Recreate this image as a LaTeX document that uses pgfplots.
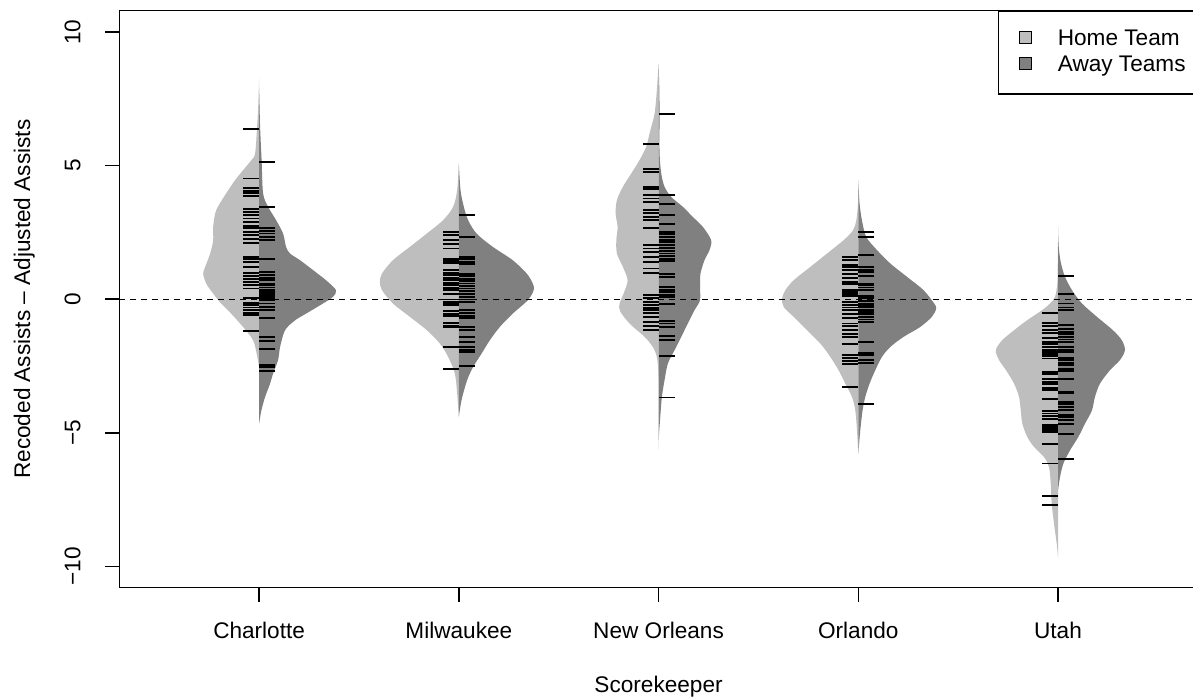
\documentclass[border=0pt]{standalone}
\usepackage{fontspec}
\setmainfont{Liberation Sans}
\usepackage{pgfplots}
\pgfplotsset{compat=1.18}
\definecolor{homegray}{gray}{0.745}
\definecolor{awaygray}{gray}{0.5}
\newcommand{\lblfont}{\fontsize{11.3}{13.5}\selectfont}
\pgfplotsset{
  homebean/.style={forget plot, fill=homegray, draw=none, smooth},
  awaybean/.style={forget plot, fill=awaygray, draw=none, smooth},
  rug/.style={forget plot, only marks, mark=-, mark size=4pt, black, mark options={line width=0.95pt}},
}
\begin{document}
\begin{tikzpicture}
\begin{axis}[name=ax, scale only axis, width=539.25pt, height=288.5pt,
  xmin=0.3, xmax=5.7, ymin=-10.8, ymax=10.8,
  axis line style={line width=0.75pt},
  xtick={1,2,3,4,5}, xticklabels={Charlotte,Milwaukee,New Orleans,Orlando,Utah},
  ytick={-10,-5,0,5,10}, yticklabels={−10,−5,0,5,10},
  tick align=outside, major tick length=7pt, xtick pos=bottom, ytick pos=left,
  tick style={line width=0.75pt, black},
  tick label style={font=\lblfont},
  yticklabel style={xshift=-12.5pt, rotate=90, anchor=base, inner sep=0pt},
  xticklabel style={yshift=-18.5pt, anchor=base, inner sep=0pt},
  xlabel={Scorekeeper}, ylabel={Recoded Assists – Adjusted Assists},
  label style={font=\lblfont},
  xlabel style={at={([yshift=-52.5pt]axis description cs:0.5,0)}, anchor=base, inner sep=0pt},
  ylabel style={at={([xshift=-44.6pt]axis description cs:0,0.5)}, anchor=base, inner sep=0pt, rotate=0},
  legend style={at={(rel axis cs:1,1)}, anchor=north east, draw=black, line width=0.75pt, fill=white,
    font=\lblfont, inner xsep=5.75pt, inner ysep=8.8pt, row sep=2.5pt,
    nodes={inner sep=0pt, text height=8.2pt, text depth=2.4pt}, cells={anchor=west}},
  legend image code/.code={\path (0pt,0pt) (23.25pt,0pt); \draw[#1, draw=black, line width=0.5pt] (4.25pt,-2pt) rectangle (10.25pt,4pt);},
]
\addlegendimage{fill=homegray}
\addlegendentry{Home Team}
\addlegendimage{fill=awaygray}
\addlegendentry{Away Teams}

% ---------- Charlotte (x=1)
\addplot[homebean] table[x expr={1-\thisrow{w}/200}, y=v, row sep=\\] {
v w\\ 8.3 0\\ 7.3 0.8\\ 6.45 2\\ 5.46 4\\ 5.21 7.7\\ 4.83 16\\ 4.46 24\\ 3.96 33\\ 3.33 43\\ 2.71 46\\ 2.21 46\\ 1.71 49\\ 1.21 54\\ 0.96 56\\ 0.59 53\\ 0.21 46\\ -0.16 38\\ -0.54 28\\ -1.04 16\\ -1.54 6\\ -2.03 2.5\\ -2.54 0\\
};
\addplot[awaybean] table[x expr={1+\thisrow{w}/200}, y=v, row sep=\\] {
v w\\ 7.9 0\\ 6.45 1\\ 5.21 2.5\\ 3.96 4\\ 3.46 9\\ 2.96 17\\ 2.46 24\\ 1.96 27\\ 1.71 31\\ 1.46 41\\ 1.09 54\\ 0.71 67\\ 0.34 77\\ 0.09 74\\ -0.16 64\\ -0.54 47\\ -0.79 36\\ -1.16 26\\ -1.79 21\\ -2.28 19\\ -2.78 14\\ -3.16 11\\ -3.66 6\\ -4.16 2.3\\ -4.66 0\\
};
\addplot[rug] table[x expr=0.96, y index=0, row sep=\\] {
v\\ 6.37\\ 4.52\\ 4.17\\ 4.06\\ 3.96\\ 3.86\\ 3.37\\ 3.26\\ 3.15\\ 3.02\\ 2.90\\ 2.75\\ 2.65\\ 2.52\\ 2.40\\ 2.27\\ 2.11\\ 1.58\\ 1.50\\ 1.40\\ 1.21\\ 0.99\\ 0.86\\ 0.76\\ 0.65\\ 0.52\\ 0.40\\ 0.06\\ -0.14\\ -0.22\\ -0.31\\ -0.39\\ -0.50\\ -0.60\\ -1.2\\
};
\addplot[rug] table[x expr=1.04, y index=0, row sep=\\] {
v\\ 5.13\\ 3.46\\ 2.65\\ 2.56\\ 2.46\\ 2.33\\ 2.21\\ 1.50\\ 1.02\\ 0.90\\ 0.80\\ 0.71\\ 0.59\\ 0.52\\ 0.44\\ 0.34\\ 0.27\\ 0.21\\ 0.15\\ 0.09\\ 0.0\\ -0.04\\ -0.16\\ -0.29\\ -0.41\\ -0.72\\ -1.43\\ -1.56\\ -1.88\\ -2.45\\ -2.54\\ -2.69\\
};

% ---------- Milwaukee (x=2)
\addplot[homebean] table[x expr={2-\thisrow{w}/200}, y=v, row sep=\\] {
v w\\ 5.08 0\\ 4.08 1.7\\ 3.46 5.7\\ 2.96 15.7\\ 2.46 32\\ 1.96 49\\ 1.46 66\\ 0.96 77\\ 0.65 79\\ 0.34 77\\ -0.16 66\\ -0.66 49\\ -1.16 32\\ -1.66 19\\ -2.16 10.7\\ -2.78 4\\ -3.53 1.7\\ -4.41 0\\
};
\addplot[awaybean] table[x expr={2+\thisrow{w}/200}, y=v, row sep=\\] {
v w\\ 5.08 0\\ 4.08 1.7\\ 3.46 5\\ 2.96 9.3\\ 2.46 17.7\\ 1.96 34\\ 1.46 54\\ 0.96 68\\ 0.59 74\\ 0.34 75\\ -0.04 69\\ -0.54 54\\ -1.04 41\\ -1.54 31\\ -2.04 22.7\\ -2.54 14.3\\ -3.03 8.3\\ -3.78 2.7\\ -4.41 0\\
};
\addplot[rug] table[x expr=1.96, y index=0, row sep=\\] {
v\\ 2.52\\ 2.40\\ 2.21\\ 2.06\\ 1.90\\ 1.52\\ 1.44\\ 1.34\\ 1.09\\ 0.99\\ 0.90\\ 0.81\\ 0.71\\ 0.61\\ 0.52\\ 0.42\\ 0.34\\ 0.19\\ -0.01\\ -0.10\\ -0.16\\ -0.22\\ -0.44\\ -0.54\\ -0.62\\ -0.89\\ -1.00\\ -1.06\\ -1.79\\ -2.60\\
};
\addplot[rug] table[x expr=2.04, y index=0, row sep=\\] {
v\\ 3.15\\ 2.33\\ 1.59\\ 1.49\\ 1.40\\ 1.31\\ 0.96\\ 0.86\\ 0.77\\ 0.69\\ 0.59\\ 0.49\\ 0.40\\ 0.31\\ 0.21\\ 0.09\\ -0.01\\ -0.10\\ -0.41\\ -0.51\\ -0.64\\ -0.72\\ -1.04\\ -1.14\\ -1.41\\ -1.60\\ -1.79\\ -1.91\\ -1.97\\ -2.51\\
};

% ---------- New Orleans (x=3)
\addplot[homebean] table[x expr={3-\thisrow{w}/200}, y=v, row sep=\\] {
v w\\ 8.8 0\\ 7.83 1.7\\ 6.95 4\\ 6.21 9\\ 5.71 12.3\\ 5.21 19\\ 4.71 27.3\\ 4.21 35.7\\ 3.71 41.7\\ 3.21 43\\ 2.71 41\\ 2.21 42.3\\ 1.71 41.7\\ 1.21 35.7\\ 0.71 31\\ 0.21 35\\ -0.16 39\\ -0.45 38.5\\ -0.91 29\\ -1.41 14\\ -1.79 5.7\\ -2.16 1.7\\ -2.66 0.3\\ -3.0 0\\
};
\addplot[awaybean] table[x expr={3+\thisrow{w}/200}, y=v, row sep=\\] {
v w\\ 8.8 0\\ 7.83 0.8\\ 6.95 1\\ 5.5 1\\ 4.71 2.7\\ 4.21 6\\ 3.83 12.7\\ 3.46 24.3\\ 3.08 34.3\\ 2.71 44.3\\ 2.21 52.7\\ 1.84 51\\ 1.46 46\\ 0.96 42\\ 0.46 41.5\\ -0.04 41.5\\ -0.41 36\\ -0.91 29.3\\ -1.41 22.7\\ -1.91 16\\ -2.41 9.3\\ -3.03 6\\ -3.66 3.3\\ -4.41 1.7\\ -5.15 0.3\\ -5.6 0\\
};
\addplot[rug] table[x expr=2.96, y index=0, row sep=\\] {
v\\ 5.81\\ 4.89\\ 4.77\\ 4.21\\ 4.11\\ 3.90\\ 3.77\\ 3.64\\ 3.33\\ 3.23\\ 3.08\\ 2.96\\ 2.67\\ 2.02\\ 1.90\\ 1.77\\ 1.59\\ 1.40\\ 1.15\\ 0.99\\ 0.15\\ 0.03\\ -0.10\\ -0.22\\ -0.33\\ -0.41\\ -0.51\\ -0.66\\ -0.85\\ -1.01\\ -1.16\\
};
\addplot[rug] table[x expr=3.04, y index=0, row sep=\\] {
v\\ 6.95\\ 3.90\\ 3.58\\ 3.15\\ 2.83\\ 2.52\\ 2.43\\ 2.33\\ 2.23\\ 2.15\\ 2.02\\ 1.92\\ 1.81\\ 1.71\\ 1.61\\ 1.52\\ 1.44\\ 0.96\\ 0.84\\ 0.46\\ 0.36\\ 0.27\\ 0.17\\ 0.09\\ -0.19\\ -0.81\\ -0.91\\ -1.04\\ -1.39\\ -1.54\\ -2.13\\ -3.68\\
};

% ---------- Orlando (x=4)
\addplot[homebean] table[x expr={4-\thisrow{w}/200}, y=v, row sep=\\] {
v w\\ 4.46 0\\ 3.58 0.3\\ 2.95 2\\ 2.58 5.3\\ 2.21 14.7\\ 1.71 31.3\\ 1.21 48\\ 0.71 64.7\\ 0.34 73\\ 0.03 76.3\\ -0.29 74.7\\ -0.66 64.7\\ -1.16 51.3\\ -1.66 38\\ -2.16 28\\ -2.66 19.7\\ -3.16 13\\ -3.66 6.3\\ -4.16 3\\ -4.91 1.3\\ -5.78 0\\
};
\addplot[awaybean] table[x expr={4+\thisrow{w}/200}, y=v, row sep=\\] {
v w\\ 4.46 0\\ 3.58 1.3\\ 2.95 3.7\\ 2.33 8\\ 1.84 18.7\\ 1.34 32\\ 0.84 48.7\\ 0.34 65.3\\ -0.16 76\\ -0.35 78\\ -0.66 73.7\\ -1.04 62\\ -1.41 45.3\\ -1.79 32\\ -2.16 23.7\\ -2.66 17\\ -3.16 11.3\\ -3.66 7\\ -4.16 4.3\\ -4.91 2\\ -5.78 0\\
};
\addplot[rug] table[x expr=3.96, y index=0, row sep=\\] {
v\\ 1.59\\ 1.46\\ 1.27\\ 1.19\\ 1.09\\ 0.96\\ 0.81\\ 0.65\\ 0.56\\ 0.36\\ 0.31\\ 0.24\\ 0.19\\ 0.11\\ -0.10\\ -0.22\\ -0.31\\ -0.41\\ -0.56\\ -0.72\\ -0.91\\ -1.01\\ -1.14\\ -1.29\\ -1.41\\ -1.69\\ -2.10\\ -2.19\\ -2.31\\ -2.41\\ -3.28\\
};
\addplot[rug] table[x expr=4.04, y index=0, row sep=\\] {
v\\ 2.52\\ 2.33\\ 1.65\\ 1.21\\ 1.11\\ 1.02\\ 0.86\\ 0.59\\ 0.52\\ 0.44\\ 0.34\\ 0.11\\ 0.03\\ -0.06\\ -0.16\\ -0.22\\ -0.29\\ -0.39\\ -0.47\\ -0.56\\ -0.66\\ -0.76\\ -0.85\\ -1.60\\ -2.01\\ -2.10\\ -2.26\\ -2.38\\ -3.91\\
};

% ---------- Utah (x=5)
\addplot[homebean] table[x expr={5-\thisrow{w}/200}, y=v, row sep=\\] {
v w\\ 2.2 0\\ 1.2 0.3\\ 0.59 0.7\\ 0.09 3\\ -0.16 8\\ -0.41 16\\ -0.79 31\\ -1.16 44\\ -1.54 56\\ -1.91 62.3\\ -2.28 59\\ -2.66 52\\ -3.16 44\\ -3.66 39\\ -4.16 37.3\\ -4.66 35.7\\ -5.16 30.7\\ -5.53 24\\ -5.91 14\\ -6.28 9\\ -6.90 7.3\\ -7.65 6.3\\ -8.40 4\\ -9.15 1.3\\ -9.65 0\\
};
\addplot[awaybean] table[x expr={5+\thisrow{w}/200}, y=v, row sep=\\] {
v w\\ 2.7 0\\ 2.2 0.4\\ 1.84 1\\ 1.34 3\\ 0.84 7\\ 0.34 14\\ -0.16 24\\ -0.66 39\\ -1.16 55\\ -1.54 64\\ -1.91 67\\ -2.28 62\\ -2.66 52\\ -3.16 42\\ -3.66 37\\ -4.16 34\\ -4.66 27\\ -5.16 20.3\\ -5.66 12\\ -6.16 5.3\\ -6.66 2\\ -7.16 0\\
};
\addplot[rug] table[x expr=4.96, y index=0, row sep=\\] {
v\\ -0.51\\ -0.89\\ -1.01\\ -1.16\\ -1.26\\ -1.44\\ -1.60\\ -1.69\\ -1.79\\ -1.89\\ -1.97\\ -2.06\\ -2.13\\ -2.22\\ -2.72\\ -2.81\\ -2.97\\ -3.10\\ -3.18\\ -3.31\\ -3.41\\ -3.72\\ -4.18\\ -4.28\\ -4.38\\ -4.47\\ -4.72\\ -4.78\\ -4.84\\ -4.91\\ -4.97\\ -5.41\\ -6.15\\ -7.38\\ -7.72\\
};
\addplot[rug] table[x expr=5.04, y index=0, row sep=\\] {
v\\ 0.86\\ 0.18\\ -0.16\\ -0.31\\ -0.39\\ -0.97\\ -1.10\\ -1.22\\ -1.31\\ -1.41\\ -1.51\\ -1.60\\ -1.79\\ -1.89\\ -1.97\\ -2.19\\ -2.28\\ -2.38\\ -2.47\\ -2.60\\ -2.68\\ -2.97\\ -3.47\\ -3.53\\ -3.85\\ -3.93\\ -4.03\\ -4.16\\ -4.34\\ -4.41\\ -4.51\\ -4.66\\ -5.03\\ -5.97\\
};

% zero reference line
\addplot[forget plot, black, line width=0.65pt, dash pattern=on 3pt off 2.5pt] coordinates {(0.3,0) (5.7,0)};
\end{axis}
\pgfresetboundingbox
\useasboundingbox ([xshift=-59.65pt,yshift=-55.15pt]ax.south west) rectangle ([xshift=-2.4pt,yshift=5.35pt]ax.north east);
\end{tikzpicture}
\end{document}
